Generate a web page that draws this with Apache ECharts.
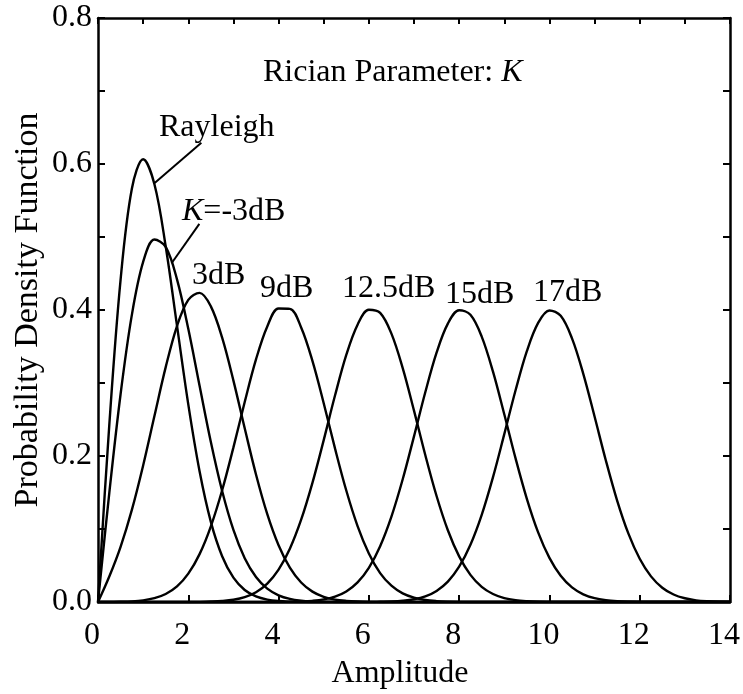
<!DOCTYPE html>
<html>
<head>
<meta charset="utf-8">
<script src="https://cdn.jsdelivr.net/npm/echarts@6/dist/echarts.min.js"></script>
<style>
html,body{margin:0;padding:0;background:#fff;}
#chart{width:743px;height:694px;}
</style>
</head>
<body>
<div id="chart"></div>
<script>
// ---- data ----
const amplitude = [0,0.25,0.5,0.75,1,1.25,1.5,1.75,2,2.25,2.5,2.75,3,3.25,3.5,3.75,4,4.25,4.5,4.75,5,5.25,5.5,5.75,6,6.25,6.5,6.75,7,7.25,7.5,7.75,8,8.25,8.5,8.75,9,9.25,9.5,9.75,10,10.25,10.5,10.75,11,11.25,11.5,11.75,12,12.25,12.5,12.75,13,13.25,13.5,13.75,14];

const rayleigh = [0,0.2423,0.4412,0.5661,0.6065,0.5723,0.4870,0.3785,0.2707,0.1791,
  0.1098,0.0627,0.0333,0.0165,0.0077,0.0033,0.0013,0.0005,0.0002,0.0001,
  0,0,0,0,0,0,0,0,0,0,
  0,0,0,0,0,0,0,0,0,0,
  0,0,0,0,0,0,0,0,0,0,
  0,0,0,0,0,0,0];

const kMinus3dB = [0,0.1493,0.2846,0.3933,0.4658,0.4965,0.4864,0.4420,0.3742,0.2962,
  0.2192,0.1520,0.0987,0.0600,0.0343,0.0183,0.0092,0.0043,0.0019,0.0008,
  0.0003,0.0001,0,0,0,0,0,0,0,0,
  0,0,0,0,0,0,0,0,0,0,
  0,0,0,0,0,0,0,0,0,0,
  0,0,0,0,0,0,0];

const k3dB = [0,0.0349,0.0756,0.1262,0.1871,0.2548,0.3217,0.3780,0.4139,0.4235,
  0.4050,0.3621,0.3033,0.2379,0.1747,0.1203,0.0777,0.0470,0.0267,0.0142,
  0.0071,0.0033,0.0015,0.0006,0.0002,0.0001,0,0,0,0,
  0,0,0,0,0,0,0,0,0,0,
  0,0,0,0,0,0,0,0,0,0,
  0,0,0,0,0,0,0];

const k9dB = [0,0,0.0003,0.0009,0.0023,0.0052,0.0109,0.0213,0.0388,0.0656,
  0.1037,0.1531,0.2118,0.2740,0.3323,0.3775,0.4020,0.4016,0.3761,0.3303,
  0.2723,0.2104,0.1527,0.1040,0.0665,0.0396,0.0223,0.0118,0.0059,0.0027,
  0.0012,0.0005,0.0002,0.0001,0,0,0,0,0,0,
  0,0,0,0,0,0,0,0,0,0,
  0,0,0,0,0,0,0];

const k12_5dB = [0,0,0,0,0,0,0,0,0,0.0002,
  0.0006,0.0014,0.0031,0.0067,0.0134,0.0252,0.0443,0.0730,0.1127,0.1632,
  0.2218,0.2828,0.3384,0.3799,0.4003,0.3960,0.3676,0.3204,0.2622,0.2013,
  0.1452,0.0983,0.0625,0.0372,0.0208,0.0110,0.0054,0.0025,0.0011,0.0004,
  0.0002,0.0001,0,0,0,0,0,0,0,0,
  0,0,0,0,0,0,0];

const k15dB = [0,0,0,0,0,0,0,0,0,0,
  0,0,0,0,0,0,0,0.0003,0.0007,0.0016,
  0.0035,0.0074,0.0145,0.0269,0.0468,0.0765,0.1170,0.1681,0.2269,0.2873,
  0.3416,0.3814,0.3997,0.3934,0.3636,0.3155,0.2571,0.1967,0.1414,0.0954,
  0.0604,0.0359,0.0200,0.0105,0.0052,0.0024,0.0010,0.0004,0.0002,0.0001,
  0,0,0,0,0,0,0];

const k17dB = [0,0,0,0,0,0,0,0,0,0,
  0,0,0,0,0,0,0,0,0,0,
  0,0,0,0,0,0.0003,0.0007,0.0017,0.0037,0.0077,
  0.0152,0.0279,0.0483,0.0784,0.1194,0.1710,0.2299,0.2900,0.3436,0.3823,
  0.3994,0.3920,0.3612,0.3126,0.2541,0.1939,0.1390,0.0936,0.0592,0.0351,
  0.0196,0.0103,0.0051,0.0023,0.0010,0.0004,0.0002];

const curveNames = ['Rayleigh','K=-3dB','3dB','9dB','12.5dB','15dB','17dB'];
const curveValues = [rayleigh,kMinus3dB,k3dB,k9dB,k12_5dB,k15dB,k17dB];

const xTickLabels = ['0','2','4','6','8','10','12','14'];
const yTickLabels = ['0.0','0.2','0.4','0.6','0.8'];

// leader lines (data coordinates): [from, to]
const rayleighLeader = [[2.29,0.629],[1.255,0.574]];
const kMinus3Leader = [[2.245,0.518],[1.63,0.464]];

// ---- chart ----
const FONT = '"Liberation Serif","Times New Roman",Times,serif';
const chart = echarts.init(document.getElementById('chart'), null, {renderer:'canvas'});

const leaders = [rayleighLeader, kMinus3Leader];
const series = curveValues.map((vals, i) => {
  const s = {
    type: 'line',
    name: curveNames[i],
    data: amplitude.map((x, j) => [x, vals[j]]),
    symbol: 'none',
    showSymbol: false,
    smooth: 0.35,
    lineStyle: {color: '#000', width: 2.4},
    itemStyle: {color: '#000'},
    z: 3
  };
  if (i < 2) {
    const L = leaders[i];
    s.markLine = {
      silent: true,
      symbol: ['none','none'],
      label: {show: false},
      lineStyle: {color: '#000', width: 2, type: 'solid'},
      data: [[{coord: L[0]}, {coord: L[1]}]]
    };
  }
  return s;
});

const axisLineStyle = {show: true, onZero: false, lineStyle: {color: '#000', width: 2.5}};
const tickStyle = {show: true, inside: true, length: 7, lineStyle: {color: '#000', width: 2}};

function txt(text, x, y, size, extra) {
  return Object.assign({
    type: 'text',
    x: x, y: y,
    silent: true,
    style: {
      text: text,
      fill: '#000',
      fontSize: size,
      fontFamily: FONT,
      align: 'left',
      verticalAlign: 'middle',
      rich: {i: {fontStyle: 'italic', fontSize: size, fontFamily: FONT, fill: '#000'}}
    }
  }, extra || {});
}

const option = {
  animation: false,
  backgroundColor: '#fff',
  grid: {left: 98, right: 9, top: 18, bottom: 92, containLabel: false},
  xAxis: [
    {
      type: 'value', position: 'bottom', min: 0, max: 14, interval: 2,
      axisLine: axisLineStyle, axisTick: tickStyle,
      axisLabel: {
        margin: 18, color: '#000', fontFamily: FONT, fontSize: 32,
        padding: [0, 12, 0, 0],
        formatter: v => xTickLabels[Math.round(v / 2)]
      },
      splitLine: {show: false}
    },
    {
      type: 'value', position: 'top', min: 0, max: 14, interval: 1,
      axisLine: axisLineStyle, axisTick: Object.assign({}, tickStyle, {length: 6}),
      axisLabel: {show: false}, splitLine: {show: false}
    }
  ],
  yAxis: [
    {
      type: 'value', position: 'left', min: 0, max: 0.8, interval: 0.1,
      axisLine: axisLineStyle, axisTick: tickStyle,
      axisLabel: {
        margin: 6, color: '#000', fontFamily: FONT, fontSize: 32,
        padding: [8, 0, 0, 0],
        formatter: v => { const k = Math.round(v * 10); return k % 2 === 0 ? yTickLabels[k / 2] : ''; }
      },
      splitLine: {show: false}
    },
    {
      type: 'value', position: 'right', min: 0, max: 0.8, interval: 0.1,
      axisLine: axisLineStyle, axisTick: tickStyle,
      axisLabel: {show: false}, splitLine: {show: false}
    }
  ],
  series: series,
  graphic: [
    txt('Rician Parameter: {i|K}', 263, 73, 32),
    txt('Rayleigh', 159, 128, 32),
    txt('{i|K}=-3dB', 182, 212, 32),
    txt('3dB', 192, 276, 32),
    txt('9dB', 260, 289, 32),
    txt('12.5dB', 342, 289, 32),
    txt('15dB', 445, 295, 32),
    txt('17dB', 533, 293, 32),
    {
      type: 'text', x: 400, y: 674, silent: true,
      style: {text: 'Amplitude', fill: '#000', fontSize: 32, fontFamily: FONT, align: 'center', verticalAlign: 'middle'}
    },
    {
      type: 'text', x: 28, y: 310, rotation: Math.PI / 2, silent: true,
      style: {text: 'Probability Density Function', fill: '#000', fontSize: 34, fontFamily: FONT, align: 'center', verticalAlign: 'middle'}
    }
  ]
};
chart.setOption(option);
</script>
</body>
</html>
